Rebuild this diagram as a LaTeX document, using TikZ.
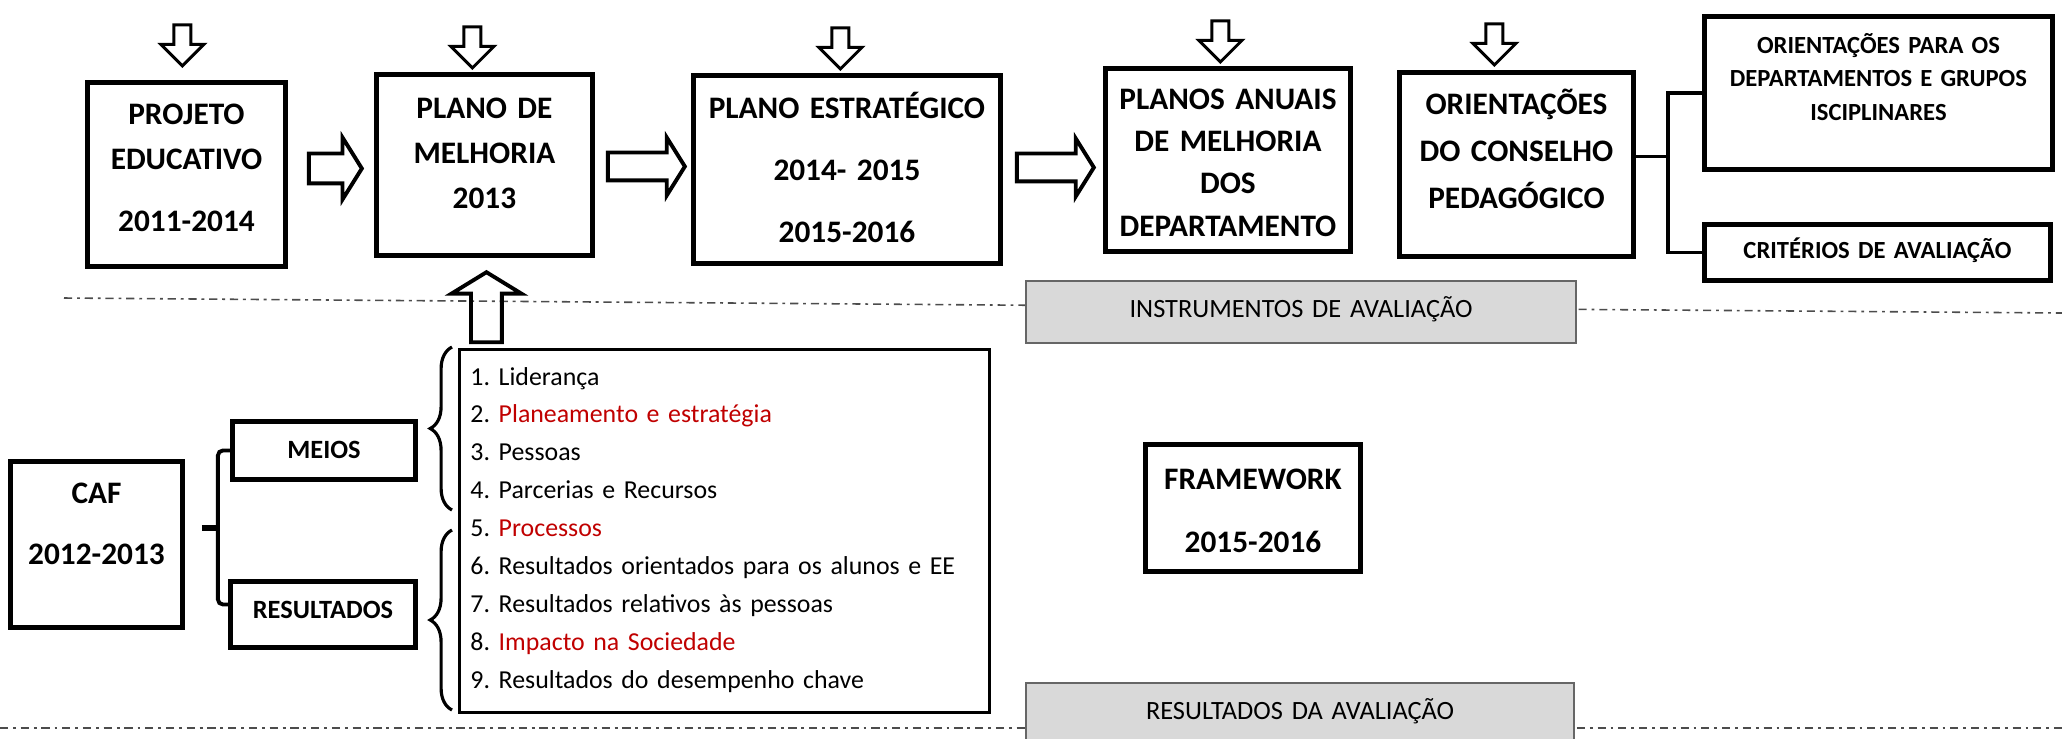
\documentclass[tikz,border=0pt]{standalone}
\usepackage{fontspec}
\setmainfont{Carlito}
\usepackage{tikz}
\usetikzlibrary{calc,shapes.arrows,decorations.pathreplacing}
\definecolor{cafred}{HTML}{C00000}
\definecolor{boxgrey}{HTML}{D9D9D9}
\newdimen\px \px=0.01cm
\frenchspacing

\begin{document}
\begin{tikzpicture}[x=1\px, y=-1\px,
	box/.style={draw, line width=1.4pt, inner sep=0pt, anchor=north west, align=center},
	heading/.style={font=\fontsize{8.9}{#1}\selectfont\bfseries},
	small/.style={font=\fontsize{#1}{9.5pt}\selectfont\bfseries},
	grey box/.style={draw=black!60, fill=boxgrey, line width=0.6pt, inner sep=0pt, anchor=north west, align=center, font=\fontsize{7.5}{9}\selectfont},
	block/.style n args={4}{draw, single arrow, inner xsep=0pt, inner ysep=#2\px, minimum height=#1\px, single arrow head extend=#3\px, single arrow tip angle=#4},
	down arrow/.style={block={41}{7}{13}{90}, line width=0.85pt, rotate=-90, anchor=tip},
	right arrow/.style={block={#1}{12}{15}{116}, line width=1.1pt, anchor=tail},
	dash dot/.style={draw=black!70, line width=0.45pt, dash pattern=on 2.3pt off 1.4pt on 0.8pt off 1.4pt},
	link/.style={line width=1.1pt}]

    \useasboundingbox (0,0) rectangle (2062,738);
    \clip (0,0) rectangle (2062,738);

    % separators
    \draw[dash dot] (64,298) -- (2062,313);
    \draw[dash dot] (0,728) -- (2062,728);

    % top row
    \node[box, heading=12.8pt, text width=198\px, text height=42\px, text depth=142\px] (proj) at (85,80) {PROJETO\\EDUCATIVO\\[4.8pt]2011-2014};
    \node[box, heading=12.8pt, text width=216\px, text height=44\px, text depth=137\px] (pmel) at (374,72) {PLANO DE\\MELHORIA\\2013};
    \node[box, heading=17.6pt, text width=307\px, text height=43\px, text depth=145\px] (pest) at (691,73) {PLANO ESTRATÉGICO\\2014- 2015\\2015-2016};
    \node[box, heading=12pt, text width=245\px, text height=41\px, text depth=142\px] (panu) at (1103,66) {PLANOS ANUAIS\\DE MELHORIA\\DOS\\DEPARTAMENTO};
    \node[box, heading=13.4pt, text width=234\px, text height=42\px, text depth=142\px] (orie) at (1397,70) {ORIENTAÇÕES\\DO CONSELHO\\PEDAGÓGICO};
    \node[box, small=7, text width=348\px, text height=37\px, text depth=116\px] (odep) at (1702,14) {ORIENTAÇÕES PARA OS\\DEPARTAMENTOS E GRUPOS\\ISCIPLINARES};
    \node[box, small=7, text width=346\px, text height=34\px, text depth=22\px] (crit) at (1702,222) {CRITÉRIOS DE AVALIAÇÃO};

    \foreach \b/\dx/\dy in {proj/-4/-12, pmel/-12/-2, pest/-6.5/-2, panu/-7.5/-2, orie/-22/-3}
        \node[down arrow] (in-\b) at ($(\b.north)+(\dx,\dy)$) {};

    \node[right arrow=53, block={53}{13}{16}{116}] (r1) at ($(proj.east)+(19,-6)$) {};
    \node[right arrow=77] (r2) at ($(pmel.east)+(11,1.5)$) {};
    \node[right arrow=77] (r3) at ($(pest.east)+(12,-2)$) {};

    \coordinate (jo) at ($(orie.east)+(32,-8)$);
    \draw[link] (orie.east |- jo) -- (jo);
    \draw[link] (odep.west) -| (jo) |- (crit.west);

    % evaluation bands
    \node[grey box, text width=550\px, text height=36\px, text depth=26\px] (instr) at (1025,280) {INSTRUMENTOS DE AVALIAÇÃO};
    \node[grey box, text width=548\px, text height=36\px, text depth=26\px] (resav) at (1025,682) {RESULTADOS DA AVALIAÇÃO};

    % CAF
    \node[box, heading=17.4pt, text width=172\px, text height=42\px, text depth=124\px] (caf) at (8,459) {CAF\\2012-2013};
    \node[box, small=7.5, text width=183\px, text height=37\px, text depth=21\px] (meios) at (230,419) {MEIOS};
    \node[box, small=7.5, text width=185\px, text height=37\px, text depth=29\px] (res) at (228,579) {RESULTADOS};

    \coordinate (jcaf) at ($(caf.east)+(33,-16)$);
    \draw[line width=1.7pt] ($(caf.east)+(17,-16)$) -- (jcaf);
    \draw[link, rounded corners=5\px] (meios.west) -| (jcaf) |- ($(res.west)+(0,-10)$);

    \node[box, line width=0.85pt, anchor=north west, align=left, text width=508\px, inner xsep=11\px, inner ysep=0pt,
          text height=35.5\px, text depth=327.5\px, font=\fontsize{7.35}{10.8}\selectfont] (items) at (458,348)
        {1. Liderança\\
         2. \textcolor{cafred}{Planeamento e estratégia}\\
         3. Pessoas\\
         4. Parcerias e Recursos\\
         5. \textcolor{cafred}{Processos}\\
         6. Resultados orientados para os alunos e EE\\
         7. Resultados relativos às pessoas\\
         8. \textcolor{cafred}{Impacto na Sociedade}\\
         9. Resultados do desempenho chave};

    \draw[line width=0.9pt, decorate, decoration={brace, amplitude=6.2pt}] (452,510) -- (452,347);
    \draw[line width=0.9pt, decorate, decoration={brace, amplitude=6.2pt}] (452,710) -- (452,530);

    \node[block={70}{13.5}{19.5}{117}, line width=1.1pt, rotate=90, anchor=tip] (up) at ($(pmel.south)+(2,12)$) {};

    \node[box, heading=17.9pt, text width=215\px, text height=45\px, text depth=82\px] (frame) at (1143,442) {FRAMEWORK\\2015-2016};

\end{tikzpicture}
\end{document}
